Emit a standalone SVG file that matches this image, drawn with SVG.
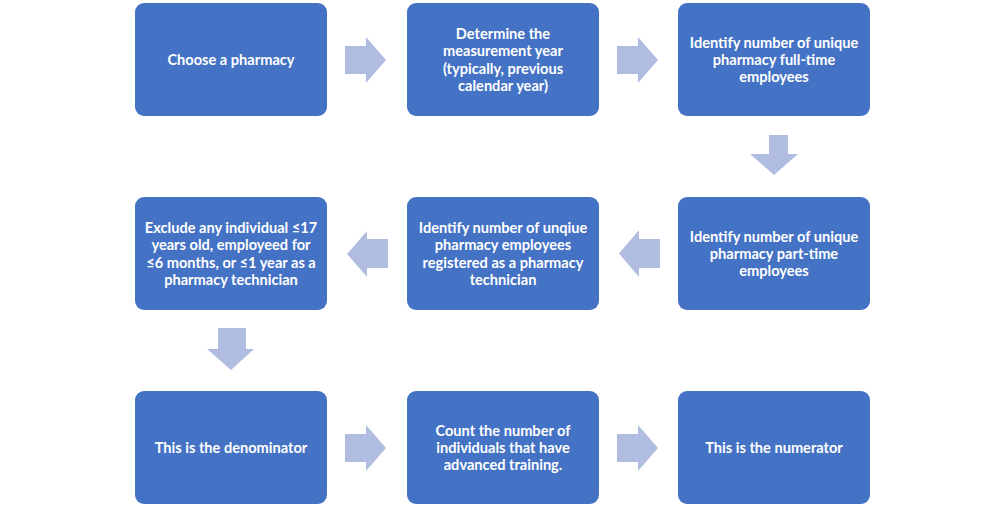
<svg xmlns="http://www.w3.org/2000/svg" width="1006" height="508" viewBox="0 0 1006 508">
<style>
.box{fill:#4472C4;}
.t{fill:#fff;font-family:Lato,"Open Sans",sans-serif;font-size:14.6px;font-weight:bold;text-anchor:middle;}
.arr{fill:#B0BDE0;}
</style>
<rect width="1006" height="508" fill="#fff"/>
<g id="connectors">
<polygon class="arr" points="345,46 366,46 366,37 386,60 366,83 366,74 345,74"/>
<polygon class="arr" points="617,46 638,46 638,37 658,60 638,83 638,74 617,74"/>
<polygon class="arr" points="769,135 788,135 788,154 798,154 774,175 750,154 769,154"/>
<polygon class="arr" points="660,239 639,239 639,230 619,253.5 639,277 639,268 660,268"/>
<polygon class="arr" points="388,239 367,239 367,231 347,254 367,277 367,268 388,268"/>
<polygon class="arr" points="218,328 246,328 246,349 254,349 231,370 207,349 218,349"/>
<polygon class="arr" points="345,434 366,434 366,425 386,448 366,471 366,462 345,462"/>
<polygon class="arr" points="617,434 638,434 638,425 658,448 638,471 638,462 617,462"/>
</g>
<g id="n1"><rect class="box" x="135" y="3" width="192" height="113" rx="9"/>
<text class="t" x="231" y="65">Choose a pharmacy</text></g>
<g id="n2"><rect class="box" x="407" y="3" width="192" height="113" rx="9"/>
<text class="t" x="503" y="39">Determine the</text>
<text class="t" x="503" y="56">measurement year</text>
<text class="t" x="503" y="74">(typically, previous</text>
<text class="t" x="503" y="91">calendar year)</text></g>
<g id="n3"><rect class="box" x="678" y="3" width="192" height="113" rx="9"/>
<text class="t" x="774" y="48">Identify number of unique</text>
<text class="t" x="774" y="65">pharmacy full-time</text>
<text class="t" x="774" y="82">employees</text></g>
<g id="n4"><rect class="box" x="678" y="197" width="192" height="113" rx="9"/>
<text class="t" x="774" y="242">Identify number of unique</text>
<text class="t" x="774" y="259">pharmacy part-time</text>
<text class="t" x="774" y="276">employees</text></g>
<g id="n5"><rect class="box" x="407" y="197" width="192" height="113" rx="9"/>
<text class="t" x="503" y="233">Identify number of unqiue</text>
<text class="t" x="503" y="250">pharmacy employees</text>
<text class="t" x="503" y="268">registered as a pharmacy</text>
<text class="t" x="503" y="285">technician</text></g>
<g id="n6"><rect class="box" x="135" y="197" width="192" height="113" rx="9"/>
<text class="t" x="231" y="233">Exclude any individual ≤17</text>
<text class="t" x="231" y="250">years old, employeed for</text>
<text class="t" x="231" y="268">≤6 months, or ≤1 year as a</text>
<text class="t" x="231" y="285">pharmacy technician</text></g>
<g id="n7"><rect class="box" x="135" y="391" width="192" height="113" rx="9"/>
<text class="t" x="231" y="453">This is the denominator</text></g>
<g id="n8"><rect class="box" x="407" y="391" width="192" height="113" rx="9"/>
<text class="t" x="503" y="436">Count the number of</text>
<text class="t" x="503" y="453">individuals that have</text>
<text class="t" x="503" y="470">advanced training.</text></g>
<g id="n9"><rect class="box" x="678" y="391" width="192" height="113" rx="9"/>
<text class="t" x="774" y="453">This is the numerator</text></g>
</svg>
